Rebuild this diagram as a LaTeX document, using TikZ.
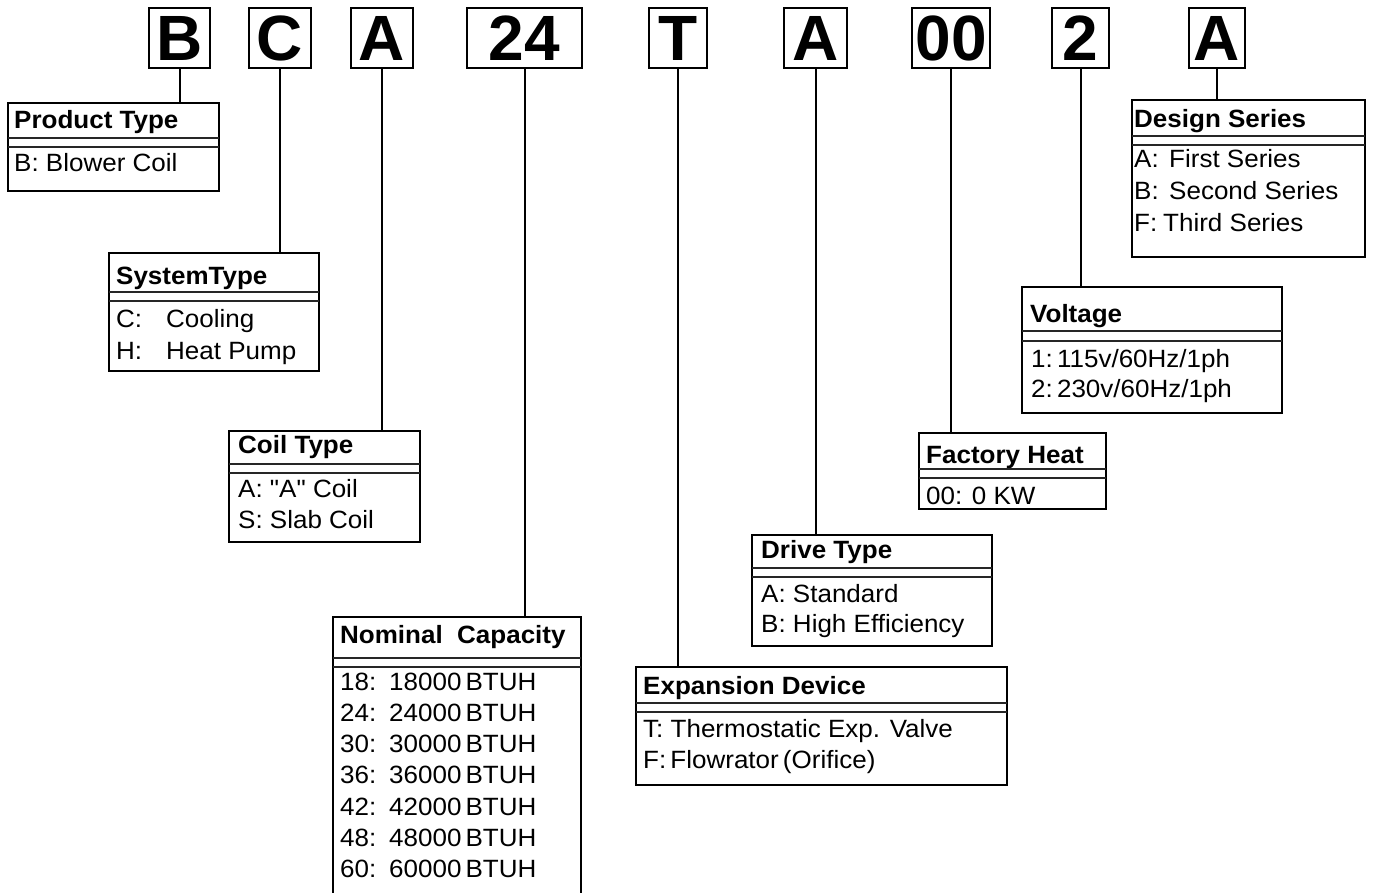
\documentclass[tikz,border=0pt]{standalone}
\usepackage{fontspec}
\setmainfont{Liberation Sans}
\newfontfamily\descfont[FakeStretch=1.04]{Liberation Sans}
\usetikzlibrary{positioning}

\begin{document}
\begin{tikzpicture}[x=1pt, y=-1pt,
    letterbox/.style={draw, line width=2pt, inner sep=0pt, outer sep=0pt, minimum height=60pt, text height=45.8pt, text depth=0pt, font=\fontsize{64}{64}\selectfont\bfseries},
    descbox/.style={draw, line width=2pt, inner sep=0pt, outer sep=0pt, anchor=north west},
    headtext/.style={anchor=base west, inner sep=0pt, font=\descfont\fontsize{25}{30}\selectfont\bfseries},
    itemtext/.style={anchor=base west, inner sep=0pt, font=\descfont\fontsize{25}{30}\selectfont},
    sepline/.style={line width=1.2pt, black!85},
    stem/.style={line width=2pt}]
    \clip (0,0) rectangle (1373,893);

    % model number letters
    \foreach \nm/\txt/\l/\r in {pB/B/149/210, pC/C/249/311, pA1/A/351/413, p24/24/467/582, pT/T/649/707, pA2/A/784/847, p00/00/912/990, p2/2/1052/1109, pA3/A/1189/1245} {
      \node[letterbox, minimum width={\r-\l}] (\nm) at ({(\l+\r)/2},38) {\txt};
    }

    % product type
    \node[descbox, minimum width=211pt, minimum height=88pt] (ptype) at (8,103) {};
    \node[headtext] (ptype-h) at (14,129) {Product Type};
    \draw[sepline] (ptype.west |- 0,138) -- (ptype.east |- 0,138);
    \draw[sepline] (ptype.west |- 0,147) -- (ptype.east |- 0,147);
    \node[itemtext] (ptype-0) at (14,172) {B: Blower Coil};

    % system type
    \node[descbox, minimum width=210pt, minimum height=118pt] (systype) at (109,253) {};
    \node[headtext] (systype-h) at (116,285) {SystemType};
    \draw[sepline] (systype.west |- 0,292) -- (systype.east |- 0,292);
    \draw[sepline] (systype.west |- 0,301) -- (systype.east |- 0,301);
    \foreach \txt [count=\i from 0] in {{\makebox[50pt][l]{C:}Cooling}, {\makebox[50pt][l]{H:}Heat Pump}} {
      \node[itemtext] (systype-\i) at (116,{327+32*\i}) {\txt};
    }

    % coil type
    \node[descbox, minimum width=191pt, minimum height=111pt] (coil) at (229,431) {};
    \node[headtext] (coil-h) at (238,453) {Coil Type};
    \draw[sepline] (coil.west |- 0,464) -- (coil.east |- 0,464);
    \draw[sepline] (coil.west |- 0,473) -- (coil.east |- 0,473);
    \foreach \txt [count=\i from 0] in {{A: "A" Coil}, {S: Slab Coil}} {
      \node[itemtext] (coil-\i) at (238,{497+31*\i}) {\txt};
    }

    % nominal capacity
    \node[descbox, minimum width=248pt, minimum height=283pt] (cap) at (333,617) {};
    \node[headtext] (cap-h) at (340,643) {Nominal\ \ Capacity};
    \draw[sepline] (cap.west |- 0,658) -- (cap.east |- 0,658);
    \draw[sepline] (cap.west |- 0,667) -- (cap.east |- 0,667);
    \foreach \k [count=\i from 0] in {18,24,30,36,42,48,60} {
      \node[itemtext] (cap-\i) at (340,{690+31.33*\i}) {\makebox[49pt][l]{\k:}\k000\,BTUH};
    }

    % expansion device
    \node[descbox, minimum width=371pt, minimum height=118pt] (expdev) at (636,667) {};
    \node[headtext] (expdev-h) at (643,694) {Expansion Device};
    \draw[sepline] (expdev.west |- 0,703) -- (expdev.east |- 0,703);
    \draw[sepline] (expdev.west |- 0,712) -- (expdev.east |- 0,712);
    \foreach \txt [count=\i from 0] in {{T: Thermostatic Exp. Valve}, {F:\,Flowrator\,(Orifice)}} {
      \node[itemtext] (expdev-\i) at (643,{737+31*\i}) {\txt};
    }

    % drive type
    \node[descbox, minimum width=240pt, minimum height=111pt] (drive) at (752,535) {};
    \node[headtext] (drive-h) at (761,558) {Drive Type};
    \draw[sepline] (drive.west |- 0,568) -- (drive.east |- 0,568);
    \draw[sepline] (drive.west |- 0,577) -- (drive.east |- 0,577);
    \foreach \txt [count=\i from 0] in {{A: Standard}, {B: High Efficiency}} {
      \node[itemtext] (drive-\i) at (761,{602+30*\i}) {\txt};
    }

    % factory heat
    \node[descbox, minimum width=187pt, minimum height=76pt] (fheat) at (919,433) {};
    \node[headtext] (fheat-h) at (926,463) {Factory Heat};
    \draw[sepline] (fheat.west |- 0,469) -- (fheat.east |- 0,469);
    \draw[sepline] (fheat.west |- 0,478) -- (fheat.east |- 0,478);
    \node[itemtext] (fheat-0) at (926,504) {00: 0 KW};

    % voltage
    \node[descbox, minimum width=260pt, minimum height=126pt] (volt) at (1022,287) {};
    \node[headtext] (volt-h) at (1030,323) {Voltage};
    \draw[sepline] (volt.west |- 0,331) -- (volt.east |- 0,331);
    \draw[sepline] (volt.west |- 0,341) -- (volt.east |- 0,341);
    \foreach \txt [count=\i from 0] in {{1:\,115v/60Hz/1ph}, {2:\,230v/60Hz/1ph}} {
      \node[itemtext] (volt-\i) at (1031,{367+30*\i}) {\txt};
    }

    % design series
    \node[descbox, minimum width=233pt, minimum height=157pt] (dseries) at (1132,100) {};
    \node[headtext] (dseries-h) at (1134,128) {Design Series};
    \draw[sepline] (dseries.west |- 0,136) -- (dseries.east |- 0,136);
    \draw[sepline] (dseries.west |- 0,145) -- (dseries.east |- 0,145);
    \foreach \txt [count=\i from 0] in {{\makebox[35pt][l]{A:}First Series}, {\makebox[35pt][l]{B:}Second Series}, {\makebox[29pt][l]{F:}Third Series}} {
      \node[itemtext] (dseries-\i) at (1134,{168+32*\i}) {\txt};
    }

    % stems from letters to their boxes
    \foreach \a/\b in {pB/ptype, pC/systype, pA1/coil, p24/cap, pT/expdev, pA2/drive, p00/fheat, p2/volt, pA3/dseries} {
      \draw[stem] (\a.south) -- (\a.south |- \b.north);
    }
\end{tikzpicture}
\end{document}
